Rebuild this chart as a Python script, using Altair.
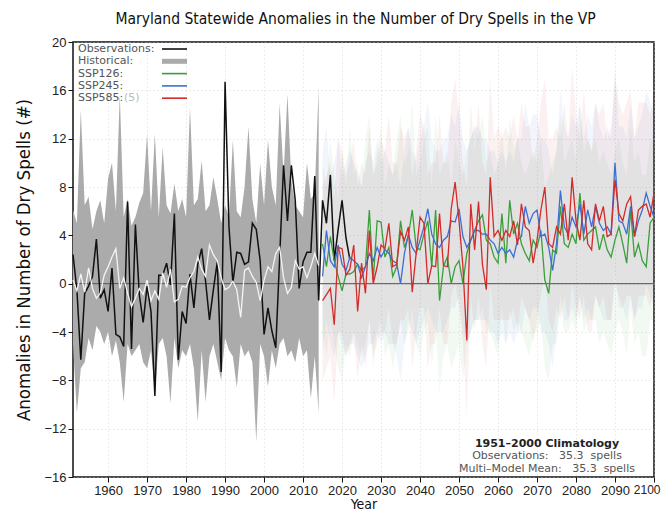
import altair as alt
import pandas as pd

# ---------------- data ----------------
OBS_YEARS = list(range(1951, 2023))
OBS = [2.4, -0.5, -6.3, -0.8, -0.2, 0.6, 3.7, -1.2, -0.5, -2.3,
       1.3, -4.2, -4.4, -5.2, 6.8, -5.4, 4.9, -0.9, -3.2, -0.2,
       -2.3, -9.3, 0.7, 0.7, 1.7, -0.1, 5.8, -6.3, -2.3, -3.3,
       0.8, -2.0, 1.6, 2.9, 0.2, -3.0, -0.5, 1.8, -7.3, 16.7,
       4.7, 0.1, 2.6, 2.5, 1.6, 1.8, 5.0, 4.5, 1.9, -4.2,
       -2.0, -3.9, -5.3, 2.2, 9.8, 5.2, 9.8, 6.9, -0.4, 1.8,
       2.6, 2.6, 8.9, -1.4, 6.9, 5.0, 9.0, 1.9, 4.5, 6.9, 3.8, 2.0]

HIST_YEARS = list(range(1951, 2015))
HIST_MEAN = [0.3, -0.6, 0.8, -0.7, 1.3, -0.4, -1.2, -0.8, 0.7, 1.4,
             2.2, 2.9, -0.4, 0.5, -0.8, -1.9, -1.2, -0.4, -0.9, 0.3,
             -1.4, -0.6, -1.3, 0.9, -0.3, 1.2, -1.5, -1.3, -0.2, -0.3,
             0.5, 1.0, 2.2, 1.2, 0.6, 3.2, 2.4, 1.9, 0.5, -0.5,
             -0.3, 0.2, -0.5, -2.8, 1.1, 1.3, 0.6, 0.1, -1.4, 0.3,
             1.4, 1.0, 2.5, 3.0, 0.5, -0.8, -0.3, 1.9, 1.2, 1.4,
             0.5, 1.4, 2.5, 1.5]
HIST_HI = [6.1, 5.0, 14.4, 6.5, 7.2, 4.5, 6.0, 6.9, 5.0, 8.7,
           10.0, 6.0, 15.7, 5.5, 7.0, 4.8, 5.5, 6.7, 7.5, 12.4,
           6.0, 12.4, 5.5, 11.3, 6.5, 5.8, 8.3, 6.0, 7.0, 5.5,
           14.6, 6.5, 7.0, 10.2, 6.0, 6.5, 8.8, 7.0, 5.0, 6.5,
           5.5, 11.9, 6.0, 5.5, 8.0, 13.0, 7.0, 5.0, 9.9, 6.5,
           11.9, 8.0, 6.5, 14.9, 9.0, 15.7, 8.5, 6.5, 6.0, 5.5,
           10.0, 7.0, 7.5, 16.3]
HIST_LO = [-5.0, -10.7, -7.0, -6.5, -4.5, -5.5, -3.5, -4.0, -5.0, -4.0,
           -6.0, -4.7, -6.5, -9.8, -5.0, -6.0, -5.5, -5.0, -6.5, -7.0,
           -5.5, -9.0, -5.0, -4.5, -6.0, -9.9, -4.5, -7.0, -5.5, -6.0,
           -5.0, -7.0, -11.4, -5.5, -9.8, -6.0, -5.0, -6.5, -8.0, -4.5,
           -5.5, -6.0, -8.6, -5.0, -6.0, -5.5, -6.5, -13.1, -5.0, -6.0,
           -8.5, -5.5, -7.0, -5.0, -4.5, -6.0, -5.5, -6.5, -4.5, -6.0,
           -5.5, -9.5, -6.0, -10.7]

FUT_YEARS = list(range(2015, 2101))
SSP126 = [3.3, 1.4, 3.9, 1.9, 0.6, -0.6, 0.8, 0.8, 1.0, 1.6,
          1.1, 1.4, 6.1, 0.3, 5.2, 5.1, 2.2, 3.0, 0.6, 1.4,
          5.2, 3.0, 3.9, 6.1, 3.0, 2.8, 4.1, 5.2, 1.4, 6.1,
          -1.4, 1.4, 2.2, 0.0, 1.4, 1.9, 0.0, 2.5, 3.6, 4.4,
          5.2, 5.7, 3.6, 3.3, 2.2, 1.7, 5.8, 1.7, 6.9, 4.1,
          5.0, 3.3, 2.5, 1.9, 3.6, 3.0, 4.4, 0.3, -0.8, 2.8,
          2.5, 6.4, 3.3, 3.0, 4.1, 3.3, 7.5, 3.6, 4.1, 4.4,
          4.7, 2.8, 4.1, 2.8, 2.2, 3.6, 4.7, 3.3, 1.7, 6.1,
          2.2, 3.3, 1.9, 1.4, 5.0, 5.5]
SSP245 = [0.6, 4.4, 1.9, 1.4, 3.2, 1.6, 1.1, 2.2, 1.9, 1.6,
          0.5, 1.4, 2.5, 1.9, 3.0, 2.2, 2.8, 2.5, 1.9, 1.7,
          0.0, 2.5, 4.1, 3.0, 2.5, 3.6, 4.7, 6.2, 4.1, 3.3,
          3.0, 3.6, 3.9, 5.2, 5.1, 6.2, 3.9, 3.0, 3.6, 4.4,
          4.4, 4.1, 4.1, 3.6, 3.3, 2.5, 3.0, 2.5, 2.8, 2.2,
          3.6, 3.9, 6.4, 5.0, 5.8, 6.1, 3.9, 4.1, 3.0, 1.1,
          3.3, 7.7, 4.7, 4.1, 5.5, 4.7, 6.6, 4.1, 6.1, 4.7,
          6.4, 5.0, 4.4, 4.7, 4.1, 10.0, 5.2, 5.0, 4.1, 6.4,
          3.9, 5.2, 6.1, 7.5, 6.4, 5.5]
SSP585 = [-1.4, -0.9, -0.4, -3.4, 3.0, 2.9, 0.7, 1.2, 3.2, -2.3,
          1.7, -0.8, 4.4, 0.0, 1.4, 3.2, 2.9, 5.0, 1.4, 1.6,
          4.3, 3.6, 4.7, -0.7, 2.5, 5.5, 5.0, 0.0, 1.5, 1.4,
          5.8, 1.5, 1.4, 6.2, 8.4, 5.2, 1.4, -4.7, 6.6, 2.8,
          6.8, 1.6, -0.5, 8.8, 3.9, 4.4, 3.6, 4.4, 3.9, 5.2,
          3.2, 6.6, 4.7, 4.4, 1.7, 3.6, 6.1, 8.0, 3.3, 3.0,
          4.7, 4.1, 6.6, 3.6, 8.8, 5.2, 3.6, 6.9, 3.3, 2.8,
          6.6, 5.2, 6.4, 3.9, 4.1, 8.6, 5.8, 5.2, 6.6, 7.2,
          3.9, 6.1, 6.4, 6.6, 5.5, 7.5]

SSP126_HI = [10, 8, 12, 9, 7, 11, 8, 13, 9, 10,
             8, 12, 14, 9, 11, 13, 8, 10, 9, 12,
             14, 10, 11, 15, 9, 10, 12, 13, 8, 14,
             9, 10, 11, 8, 12, 10, 9, 11, 12, 13,
             12, 14, 10, 11, 9, 10, 13, 9, 14, 11,
             12, 10, 9, 10, 11, 10, 12, 8, 9, 10,
             11, 14, 10, 11, 12, 10, 15, 11, 12, 11,
             12, 10, 11, 10, 9, 11, 12, 10, 9, 13,
             10, 11, 9, 9, 12, 12]
SSP126_LO = [-4, -6, -3, -5, -7, -8, -5, -6, -4, -5,
             -6, -5, -3, -7, -4, -3, -6, -5, -7, -5,
             -3, -5, -4, -2, -5, -6, -4, -3, -7, -3,
             -9, -6, -5, -7, -6, -5, -8, -5, -4, -3,
             -3, -2, -4, -4, -5, -6, -2, -5, -2, -4,
             -3, -4, -5, -6, -4, -4, -3, -7, -8, -5,
             -5, -2, -4, -4, -3, -4, -1, -4, -3, -3,
             -3, -5, -4, -5, -6, -4, -3, -4, -6, -2,
             -5, -4, -6, -6, -3, -3]
SSP245_HI = [11, 13, 9, 10, 12, 9, 10, 11, 10, 9,
             8, 10, 11, 10, 12, 10, 11, 10, 9, 10,
             8, 11, 13, 11, 10, 12, 13, 15, 12, 11,
             11, 12, 12, 14, 13, 15, 12, 11, 12, 13,
             13, 12, 12, 11, 11, 10, 11, 10, 11, 10,
             12, 12, 15, 13, 14, 14, 12, 12, 11, 9,
             11, 16, 13, 12, 14, 13, 15, 12, 14, 13,
             15, 13, 12, 13, 12, 18, 13, 13, 12, 15,
             12, 13, 14, 16, 15, 14]
SSP245_LO = [-6, -3, -5, -6, -4, -5, -6, -5, -5, -6,
             -7, -6, -5, -5, -4, -5, -4, -5, -5, -6,
             -8, -5, -3, -4, -5, -4, -3, -2, -3, -4,
             -4, -4, -3, -2, -2, -1, -4, -5, -4, -3,
             -3, -3, -3, -4, -4, -5, -4, -5, -4, -5,
             -4, -4, -2, -3, -2, -2, -4, -4, -5, -7,
             -4, -1, -3, -3, -2, -3, -1, -3, -2, -3,
             -1, -2, -3, -3, -3, 1, -2, -2, -3, -1,
             -3, -2, -2, 0, -1, -2]
SSP585_HI = [8, 9, 10, 7, 12, 11, 9, 10, 12, 8,
             10, 9, 13, 9, 10, 12, 11, 14, 10, 10,
             13, 12, 13, 9, 11, 14, 13, 9, 10, 10,
             14, 10, 10, 15, 17, 14, 10, 8, 15, 11,
             15, 10, 9, 17, 12, 13, 12, 13, 12, 14,
             12, 15, 13, 13, 10, 12, 15, 17, 12, 12,
             13, 12, 15, 12, 18, 14, 12, 16, 12, 11,
             15, 14, 15, 12, 13, 17, 15, 14, 15, 16,
             12, 15, 15, 15, 14, 16]
SSP585_LO = [-8, -7, -6, -10, -4, -4, -6, -5, -4, -8,
             -5, -7, -3, -6, -5, -4, -4, -2, -5, -5,
             -3, -3, -2, -7, -4, -2, -2, -7, -5, -5,
             -2, -5, -5, -1, 0, -2, -5, -11, -1, -4,
             -1, -5, -7, 0, -3, -3, -3, -3, -3, -2,
             -4, -1, -2, -3, -5, -3, -1, 1, -3, -4,
             -2, -3, -1, -3, 0, -2, -3, -1, -4, -4,
             -1, -2, -1, -3, -3, 0, -1, -2, -1, -1,
             -3, -1, -1, -1, -2, 0]

SCENARIOS = ["SSP126", "SSP245", "SSP585"]
SCEN_COLORS = ["#3a9e3a", "#3b6fd6", "#d32a2a"]
Y_TICKS = [-16, -12, -8, -4, 0, 4, 8, 12, 16, 20]
X_TICKS = list(range(1960, 2101, 10))

# ---------------- tables ----------------
obs_df = pd.DataFrame({"year": OBS_YEARS, "v": OBS})
hist_df = pd.DataFrame({"year": HIST_YEARS, "mean": HIST_MEAN, "lo": HIST_LO, "hi": HIST_HI})
fut_rows = []
for name, mean, lo, hi in [("SSP126", SSP126, SSP126_LO, SSP126_HI),
                           ("SSP245", SSP245, SSP245_LO, SSP245_HI),
                           ("SSP585", SSP585, SSP585_LO, SSP585_HI)]:
    for y, m, l, h in zip(FUT_YEARS, mean, lo, hi):
        fut_rows.append({"year": y, "scen": name, "mean": m, "lo": l, "hi": h})
fut_df = pd.DataFrame(fut_rows)

NARROW = "Liberation Sans Narrow, DejaVu Sans Condensed, Roboto Condensed, sans-serif"
WIDE = "DejaVu Sans, Verdana, sans-serif"

xscale = alt.Scale(domain=[1951, 2100], nice=False, zero=False)
yscale = alt.Scale(domain=[-16, 20], nice=False, zero=False)
xaxis = alt.Axis(values=X_TICKS, format="d", title="Year", grid=True,
                 titleY=31, titleBaseline="alphabetic",
                 labelOverlap=False, labelFlush=False,
                 labelAlign=alt.condition("datum.value == 2100", alt.value("right"), alt.value("center")),
                 labelOffset=alt.condition("datum.value == 2100", alt.value(6), alt.value(0)),
                 labelFontSize=alt.condition("datum.value == 2100", alt.value(12), alt.value(13)))
yaxis = alt.Axis(values=Y_TICKS, format="d",
                 title="Anomalies in Number of Dry Spells (#)", grid=True,
                 titleX=-40, labelOverlap=False, labelFlush=False)


def X():
    return alt.X("year:Q", scale=xscale, axis=xaxis)


def Y(field):
    return alt.Y(f"{field}:Q", scale=yscale, axis=yaxis)


haze = alt.Chart(fut_df).mark_area(opacity=0.065, interpolate="linear").encode(
    x=X(), y=Y("hi"), y2="lo",
    color=alt.Color("scen:N", scale=alt.Scale(domain=SCENARIOS, range=SCEN_COLORS), legend=None),
)
band = alt.Chart(hist_df).mark_area(color="#ababab", opacity=1).encode(x=X(), y=Y("hi"), y2="lo")
zero = alt.Chart(pd.DataFrame({"z": [0]})).mark_rule(color="#555555", strokeWidth=1).encode(
    y=alt.Y("z:Q", scale=yscale, axis=yaxis))
obs_line = alt.Chart(obs_df).mark_line(color="#111111", strokeWidth=1.5).encode(x=X(), y=Y("v"))
mean_line = alt.Chart(hist_df).mark_line(color="#f4f4f4", strokeWidth=1.3).encode(x=X(), y=Y("mean"))

scen_lines = []
for name, col in zip(SCENARIOS, SCEN_COLORS):
    scen_lines.append(
        alt.Chart(fut_df[fut_df.scen == name]).mark_line(color=col, strokeWidth=1.3).encode(
            x=X(), y=Y("mean")))

# legend (decoration, placed in pixels)
one = pd.DataFrame({"a": [0]})
legend_layers = []
LEG = [("Observations:", "#111111", 1.6), ("Historical:", "#aaaaaa", 5),
       ("SSP126:", SCEN_COLORS[0], 1.6), ("SSP245:", SCEN_COLORS[1], 1.6),
       ("SSP585:", SCEN_COLORS[2], 1.6)]
for i, (lab, col, sw) in enumerate(LEG):
    yy = 7 + i * 12.3
    legend_layers.append(alt.Chart(one).mark_text(
        text=lab, align="left", baseline="middle", font=WIDE, fontSize=11, color="#555555").encode(
        x=alt.value(5), y=alt.value(yy)))
    legend_layers.append(alt.Chart(one).mark_rule(color=col, strokeWidth=sw).encode(
        x=alt.value(89), x2=alt.value(114), y=alt.value(yy)))
legend_layers.append(alt.Chart(one).mark_text(
    text="(5)", align="left", baseline="middle", font=WIDE, fontSize=11, color="#bbbbbb").encode(
    x=alt.value(51), y=alt.value(7 + 4 * 12.3)))

ANNOT = [("1951\u20132000 Climatology", "bold", "#222222"),
         ("Observations:\u00a0\u00a0\u00a035.3\u00a0\u00a0spells", "normal", "#555555"),
         ("Multi\u2013Model Mean:\u00a0\u00a0\u00a035.3\u00a0\u00a0spells", "normal", "#555555")]
annot_layers = []
for (txt, wt, col), yy in zip(ANNOT, [402, 414, 427]):
    annot_layers.append(alt.Chart(one).mark_text(
        text=txt, align="center", baseline="middle", font=WIDE, fontSize=11,
        fontWeight=wt, color=col).encode(x=alt.value(474), y=alt.value(yy)))

chart = alt.layer(
    haze, band, zero, obs_line, mean_line, *scen_lines, *legend_layers, *annot_layers
).properties(
    width=581, height=435,
    autosize=alt.AutoSizeParams(type="none"),
    padding={"left": 65, "top": 34, "right": 8, "bottom": 32},
    title=alt.TitleParams(
        "Maryland Statewide Anomalies in the Number of Dry Spells in the VP",
        anchor="middle", font=NARROW, fontSize=15.5, fontWeight="normal", color="#111111",
        offset=9, dx=-8),
).configure_view(
    stroke="#111111", strokeWidth=1.5
).configure_axis(
    domain=False, tickColor="#111111", tickSize=5, tickWidth=1,
    labelFont="Liberation Sans", labelColor="#222222", labelPadding=2,
    titleFont=NARROW, titleFontWeight="normal", titleColor="#111111",
    gridColor="#c8c8c8", gridDash=[1, 3], gridOpacity=0.7, gridWidth=1,
).configure_axisY(titleFontSize=18.5, labelFontSize=13).configure_axisX(titleFontSize=14)

chart.save("out.html", embed_options={"renderer": "svg", "actions": False})
